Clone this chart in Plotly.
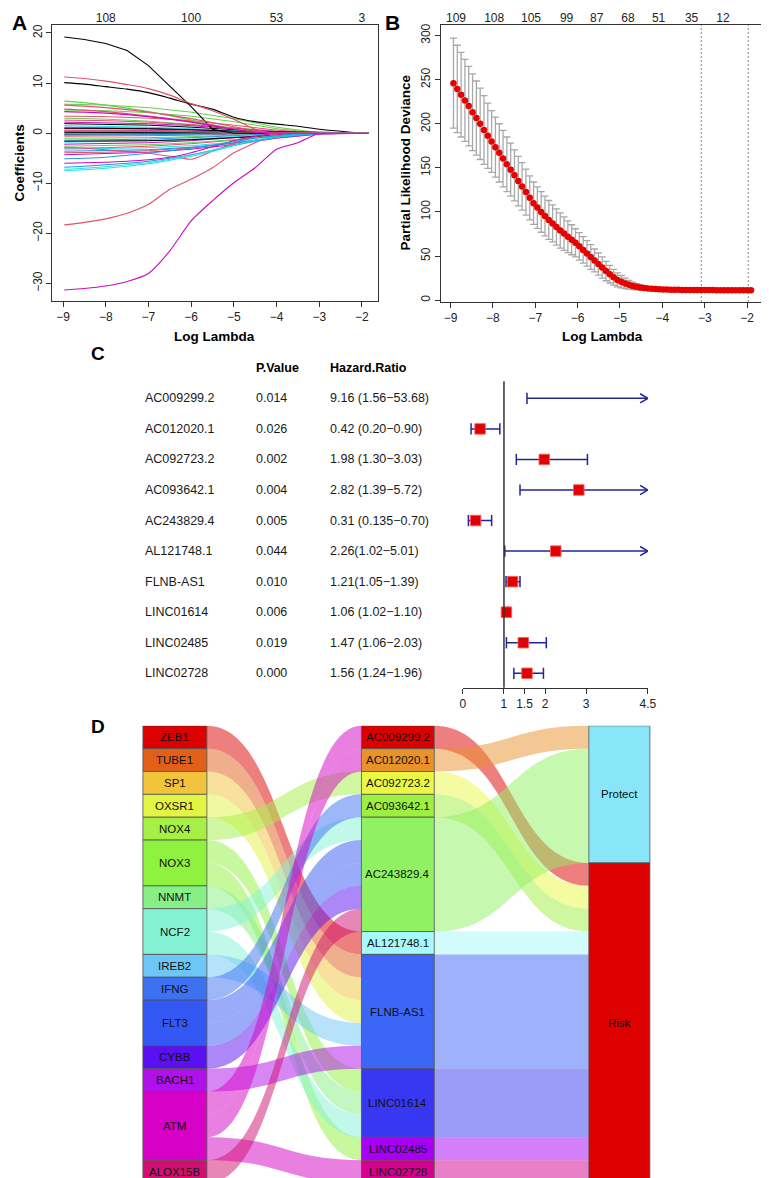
import plotly.graph_objects as go

W, H = 769, 1178
FONT = "Liberation Sans, Arial, Helvetica, sans-serif"


def fx(p):
    return p / W


def fy(p):
    return 1 - p / H


# ---------------- Panel A : coefficient paths ----------------
A_knots = [-8.97, -8.5, -8.0, -7.5, -7.0, -6.5, -6.0, -5.5, -5.0, -4.5, -4.0, -3.5, -3.0, -2.5, -2.0, -1.85]
A_major_paths = [
    [19.2, 18.7, 17.9, 16.5, 13.5, 9.4, 5.3, 0.8, 0, 0, 0, 0, 0, 0, 0, 0],
    [10.1, 9.8, 9.3, 8.8, 8.1, 7.0, 5.8, 4.8, 3.2, 2.3, 1.8, 1.4, 0.8, 0.4, 0.05, 0],
    [11.2, 10.9, 10.4, 9.7, 8.9, 7.6, 5.9, 4.5, 2.8, 0.8, 0, 0, 0, 0, 0, 0],
    [-18.3, -17.8, -17.1, -16.0, -14.2, -11.2, -9.2, -6.9, -3.9, -1.9, -0.1, 0, 0, 0, 0, 0],
    [-31.3, -31.0, -30.5, -29.6, -28.0, -23.5, -17.5, -13.5, -9.9, -6.9, -3.2, -1.9, 0, 0, 0, 0],
    [-2.8, -3.0, -3.3, -3.6, -4.0, -4.6, -5.2, -3.6, -2.0, -0.7, 0, 0, 0, 0, 0, 0],
    [-6.0, -5.9, -5.8, -5.6, -5.3, -4.8, -3.9, -2.7, -1.5, -0.6, 0, 0, 0, 0, 0, 0],
    [-7.5, -7.3, -7.0, -6.6, -6.1, -5.4, -4.6, -3.6, -2.5, -1.6, -0.8, -0.3, 0, 0, 0, 0],
    [-6.8, -6.6, -6.3, -6.0, -5.6, -5.0, -4.3, -3.4, -2.4, -1.5, -0.7, -0.2, 0, 0, 0, 0],
    [-7.2, -7.0, -6.7, -6.3, -5.9, -5.2, -4.4, -3.4, -2.4, -1.4, -0.6, -0.1, 0, 0, 0, 0],
    [-5.1, -5.0, -4.8, -4.4, -4.0, -3.5, -3.0, -2.4, -1.7, -1.0, -0.5, -0.1, 0, 0, 0, 0],
    [6.4, 6.1, 5.6, 5.0, 4.3, 3.5, 2.6, 1.7, 0.9, 0.3, 0, 0, 0, 0, 0, 0],
    [5.6, 5.4, 5.1, 4.7, 4.2, 3.6, 2.9, 2.1, 1.3, 0.5, 0, 0, 0, 0, 0, 0],
    [4.8, 4.6, 4.3, 3.9, 3.4, 2.9, 2.3, 1.6, 0.9, 0.3, 0, 0, 0, 0, 0, 0],
    [4.3, 4.2, 4.0, 3.7, 3.3, 2.8, 2.2, 1.5, 0.8, 0.2, 0, 0, 0, 0, 0, 0],
]
A_major_colors = ["black", "black", "#DF536B", "#DF536B", "#CD0BBC", "#DF536B", "#CD0BBC",
                  "#28E2E5", "#2297E6", "#28E2E5", "#2297E6", "#61D04F", "#DF536B", "#DF536B", "#CD0BBC"]

A_minor_knots = [-8.97, -8.0, -7.0, -6.0, -5.0, -4.0, -3.0, -1.85]
A_minor_paths = [
    [3.0, 2.8, 2.4, 1.8, 1.1, 0.4, 0, 0],
    [2.6, 2.5, 2.2, 1.7, 1.0, 0.3, 0, 0],
    [1.9, 1.8, 1.6, 1.2, 0.7, 0.2, 0, 0],
    [1.5, 1.4, 1.2, 0.9, 0.5, 0.1, 0, 0],
    [1.2, 1.1, 1.0, 0.7, 0.4, 0.1, 0, 0],
    [0.9, 0.9, 0.8, 0.6, 0.3, 0.1, 0, 0],
    [0.7, 0.7, 0.6, 0.4, 0.2, 0, 0, 0],
    [0.4, 0.4, 0.3, 0.2, 0.1, 0, 0, 0],
    [-0.2, -0.2, -0.2, -0.1, 0, 0, 0, 0],
    [-0.6, -0.6, -0.5, -0.4, -0.2, 0, 0, 0],
    [-1.0, -1.0, -0.9, -0.7, -0.4, -0.1, 0, 0],
    [-1.4, -1.3, -1.2, -0.9, -0.5, -0.1, 0, 0],
    [-1.8, -1.7, -1.5, -1.2, -0.7, -0.2, 0, 0],
    [-2.2, -2.1, -1.9, -1.5, -0.9, -0.3, 0, 0],
    [-1.6, -1.6, -1.5, -1.3, -0.9, -0.4, -0.1, 0],
    [-3.0, -2.9, -2.6, -2.1, -1.4, -0.5, 0, 0],
    [-2.6, -2.5, -2.3, -1.9, -1.3, -0.5, 0, 0],
    [-3.2, -3.1, -2.9, -2.5, -1.8, -0.8, -0.1, 0],
    [-3.9, -3.8, -3.5, -2.9, -2.0, -0.9, -0.1, 0],
    [-4.3, -4.1, -3.8, -3.2, -2.3, -1.0, -0.2, 0],
    [-3.6, -3.5, -3.3, -2.8, -2.0, -0.9, -0.1, 0],
    [5.8, 5.6, 5.1, 4.2, 2.9, 1.2, 0.1, 0],
    [4.6, 4.5, 4.1, 3.4, 2.3, 0.9, 0, 0],
    [3.4, 3.3, 3.0, 2.5, 1.6, 0.6, 0, 0],
    [2.2, 2.1, 1.9, 1.5, 0.9, 0.3, 0, 0],
    [0.2, 0.2, 0.2, 0.1, 0.05, 0, 0, 0],
    [-0.4, -0.4, -0.3, -0.2, -0.1, 0, 0, 0],
    [1.0, 1.0, 0.9, 0.7, 0.4, 0.1, 0, 0],
    [0.4, 0.5, 0.5, 0.4, 0.3, 0.2, 0.1, 0],
    [0.1, 0.1, 0.1, 0.2, 0.3, 0.3, 0.2, 0],
    [0.5, 0.5, 0.4, 0.3, 0.2, 0.1, 0.05, 0],
]
A_minor_colors = ["#61D04F", "#DF536B", "black", "#28E2E5", "#2297E6", "#CD0BBC", "#F5C710", "#9E9E9E",
                  "black", "#DF536B", "#61D04F", "#2297E6", "#28E2E5", "#CD0BBC", "black", "#DF536B",
                  "#61D04F", "#28E2E5", "#DF536B", "#CD0BBC", "#2297E6", "#61D04F", "#61D04F", "#DF536B",
                  "#CD0BBC", "#28E2E5", "#2297E6", "black", "#CD0BBC", "black", "#DF536B"]
A_top_ticks = [-8, -6, -4, -2]
A_top_labels = ["108", "100", "53", "3"]

# ---------------- Panel B : cross-validation curve ----------------
B_loglam = [-8.93, -8.84, -8.75, -8.66, -8.57, -8.48, -8.39, -8.30, -8.21, -8.12,
            -8.03, -7.94, -7.85, -7.76, -7.67, -7.58, -7.49, -7.40, -7.31, -7.22,
            -7.13, -7.04, -6.95, -6.86, -6.77, -6.68, -6.59, -6.50, -6.41, -6.32,
            -6.23, -6.14, -6.05, -5.96, -5.87, -5.78, -5.69, -5.60, -5.51, -5.42,
            -5.33, -5.24, -5.15, -5.06, -4.97, -4.88, -4.79, -4.70, -4.61, -4.52,
            -4.43, -4.34, -4.25, -4.16, -4.07, -3.98, -3.89, -3.80, -3.71, -3.62,
            -3.53, -3.44, -3.35, -3.26, -3.17, -3.08, -2.99, -2.90, -2.81, -2.72,
            -2.63, -2.54, -2.45, -2.36, -2.27, -2.18, -2.09, -2.00, -1.91]
B_dev = [246, 239.5, 233, 226.5, 220, 213, 206.5, 200, 193, 186.5, 180,
         173.5, 167, 160.5, 154, 148, 141.5, 135, 129, 122.5, 116, 110,
         105, 100, 95.5, 91, 87, 83, 79, 75.5, 72, 68.5, 65,
         61, 57, 53, 49, 45, 41, 37, 33, 29.5, 26, 23,
         21, 19, 17.5, 16.2, 15.2, 14.4, 13.8, 13.3, 12.9, 12.6, 12.3,
         12.1, 12.0, 11.9, 11.8, 11.7, 11.6, 11.6, 11.5, 11.5, 11.5, 11.4,
         11.4, 11.4, 11.4, 11.3, 11.3, 11.3, 11.3, 11.3, 11.3, 11.3, 11.3, 11.3, 11.3]
B_se = [51, 49.5, 48, 46.5, 45, 43.5, 42, 40.5, 39, 37, 35,
        34, 33, 32, 31, 30, 29, 28, 27, 26, 25, 24,
        23.5, 23, 22.5, 22, 21, 20.5, 20, 19, 18, 17, 16,
        15.5, 15, 14.5, 14, 13, 12.5, 12, 11, 10, 9, 8,
        7, 6, 5, 4.2, 3.5, 2.9, 2.4, 2.0, 1.8, 1.6, 1.5,
        1.4, 1.4, 1.4, 1.4, 1.4, 1.4, 1.4, 1.4, 1.4, 1.4, 1.4,
        1.3, 1.3, 1.3, 1.3, 1.3, 1.3, 1.3, 1.3, 1.3, 1.3, 1.3, 1.3, 1.3]
B_top_ticks = [-8.87, -7.97, -7.10, -6.26, -5.55, -4.81, -4.09, -3.31, -2.57]
B_top_labels = ["109", "108", "105", "99", "87", "68", "51", "35", "12"]
B_lambda_min = -3.08
B_lambda_1se = -1.97

# ---------------- Panel C : forest table ----------------
C_genes = ["AC009299.2", "AC012020.1", "AC092723.2", "AC093642.1", "AC243829.4",
           "AL121748.1", "FLNB-AS1", "LINC01614", "LINC02485", "LINC02728"]
C_pvals = ["0.014", "0.026", "0.002", "0.004", "0.005", "0.044", "0.010", "0.006", "0.019", "0.000"]
C_hr_text = ["9.16 (1.56\u221253.68)", "0.42 (0.20\u22120.90)", "1.98 (1.30\u22123.03)",
             "2.82 (1.39\u22125.72)", "0.31 (0.135\u22120.70)", "2.26(1.02\u22125.01)",
             "1.21(1.05\u22121.39)", "1.06 (1.02\u22121.10)", "1.47 (1.06\u22122.03)",
             "1.56 (1.24\u22121.96)"]
C_hr = [9.16, 0.42, 1.98, 2.82, 0.31, 2.26, 1.21, 1.06, 1.47, 1.56]
C_lo = [1.56, 0.20, 1.30, 1.39, 0.135, 1.02, 1.05, 1.02, 1.06, 1.24]
C_hi = [53.68, 0.90, 3.03, 5.72, 0.70, 5.01, 1.39, 1.10, 2.03, 1.96]
C_ticks = [0, 1, 1.5, 2, 3, 4.5]
C_clip = 4.5

# ---------------- Panel D : alluvial ----------------
D_left = ["ZEB1", "TUBE1", "SP1", "OXSR1", "NOX4", "NOX3", "NNMT", "NCF2", "IREB2",
          "IFNG", "FLT3", "CYBB", "BACH1", "ATM", "ALOX15B"]
D_left_colors = ["#DD0000", "#E0601A", "#F2C43C", "#E2F444", "#A6F046", "#8FF23E", "#86F086",
                 "#86F2D4", "#6EC6F6", "#3C72F2", "#3458F4", "#5A10F0", "#B010EA", "#D600C6", "#D01070"]
D_mid = ["AC009299.2", "AC012020.1", "AC092723.2", "AC093642.1", "AC243829.4",
         "AL121748.1", "FLNB-AS1", "LINC01614", "LINC02485", "LINC02728"]
D_mid_colors = ["#DD0000", "#E8922A", "#EAF844", "#9EF040", "#90F262", "#A6FAFA",
                "#3C66F6", "#3838F2", "#A800F4", "#D4008E"]
D_mid_group = ["Risk", "Protect", "Risk", "Risk", "Protect", "Risk", "Risk", "Risk", "Risk", "Risk"]
D_right = ["Protect", "Risk"]
D_right_colors = ["#88E6F8", "#DD0000"]
D_link_gene = ["ZEB1", "TUBE1", "SP1", "OXSR1", "NOX4", "NOX3", "NOX3", "NNMT", "NCF2", "NCF2",
               "IREB2", "IFNG", "FLT3", "FLT3", "CYBB", "BACH1", "ATM", "ATM", "ATM", "ALOX15B"]
D_link_lnc = ["AL121748.1", "FLNB-AS1", "FLNB-AS1", "FLNB-AS1", "AC092723.2", "LINC01614", "LINC02485",
              "LINC01614", "AC243829.4", "LINC01614", "FLNB-AS1", "AC093642.1", "AC243829.4",
              "AC243829.4", "AC243829.4", "FLNB-AS1", "AC009299.2", "AC012020.1", "LINC02728",
              "AC243829.4"]

fig = go.Figure()
shapes = []
ann = []


def add_text(x, y, text, size=12, bold=False, angle=0, xanchor="center", xref="paper", yref="paper",
             color="black"):
    ann.append(dict(x=x, y=y, xref=xref, yref=yref, text=("<b>%s</b>" % text) if bold else text,
                    showarrow=False, textangle=angle, xanchor=xanchor, yanchor="middle",
                    font=dict(family=FONT, size=size, color=color)))


# ----- Panel A traces -----
for path, col in zip(A_minor_paths, A_minor_colors):
    fig.add_trace(go.Scatter(x=A_minor_knots, y=path, mode="lines", line=dict(color=col, width=1),
                             xaxis="x", yaxis="y", hoverinfo="skip", showlegend=False))
for n, (path, col) in enumerate(zip(A_major_paths, A_major_colors)):
    shape_kw = dict(shape="linear") if n == 0 else dict(shape="spline", smoothing=0.6)
    fig.add_trace(go.Scatter(x=A_knots, y=path, mode="lines",
                             line=dict(color=col, width=1.1, **shape_kw),
                             xaxis="x", yaxis="y", hoverinfo="skip", showlegend=False))
fig.add_trace(go.Scatter(x=A_top_ticks, y=[0] * len(A_top_ticks), mode="markers", marker=dict(size=1, opacity=0),
                         xaxis="x2", yaxis="y", hoverinfo="skip", showlegend=False))

# ----- Panel B traces -----
fig.add_trace(go.Scatter(x=B_loglam, y=B_dev, mode="markers",
                         marker=dict(color="#E60000", size=6.5, line=dict(width=0)),
                         error_y=dict(type="data", array=B_se, color="#A8A8A8", thickness=1.3, width=3.5),
                         xaxis="x3", yaxis="y3", hoverinfo="skip", showlegend=False))
fig.add_trace(go.Scatter(x=B_top_ticks, y=[0] * len(B_top_ticks), mode="markers", marker=dict(size=1, opacity=0),
                         xaxis="x4", yaxis="y3", hoverinfo="skip", showlegend=False))
for v in [B_lambda_min, B_lambda_1se]:
    shapes.append(dict(type="line", xref="x3", yref="y3 domain", x0=v, x1=v, y0=0, y1=1,
                       line=dict(color="#444444", width=1.3, dash="1px,3px")))

# ----- Panel C traces -----
C_top_px, C_bot_px = 372, 679
C_yrange = [9.477, -0.556]
rows = list(range(len(C_genes)))
seg_x, seg_y = [], []
cap_x, cap_y = [], []
chev_x, chev_y = [], []
sq_x, sq_y = [], []
dx_arrow, dy_arrow = 0.19, 0.15
for r, h, lo, hi in zip(rows, C_hr, C_lo, C_hi):
    seg_x += [lo, min(hi, C_clip), None]
    seg_y += [r, r, None]
    cap_x.append(lo); cap_y.append(r)
    if hi <= C_clip:
        cap_x.append(hi); cap_y.append(r)
    else:
        chev_x += [C_clip - dx_arrow, C_clip, C_clip - dx_arrow, None]
        chev_y += [r - dy_arrow, r, r + dy_arrow, None]
    if h <= C_clip:
        sq_x.append(h); sq_y.append(r)
NAVY = "#23239A"
fig.add_trace(go.Scatter(x=seg_x, y=seg_y, mode="lines", line=dict(color=NAVY, width=1.5),
                         xaxis="x5", yaxis="y5", hoverinfo="skip", showlegend=False, cliponaxis=False))
fig.add_trace(go.Scatter(x=cap_x, y=cap_y, mode="markers",
                         marker=dict(symbol="line-ns", size=8, line=dict(color=NAVY, width=1.5)),
                         xaxis="x5", yaxis="y5", hoverinfo="skip", showlegend=False, cliponaxis=False))
fig.add_trace(go.Scatter(x=chev_x, y=chev_y, mode="lines", line=dict(color=NAVY, width=1.5),
                         xaxis="x5", yaxis="y5", hoverinfo="skip", showlegend=False, cliponaxis=False))
fig.add_trace(go.Scatter(x=sq_x, y=sq_y, mode="markers",
                         marker=dict(symbol="square", size=10.5, color="#E00000",
                                     line=dict(color="rgba(255,90,90,0.9)", width=1)),
                         xaxis="x5", yaxis="y5", hoverinfo="skip", showlegend=False, cliponaxis=False))
shapes.append(dict(type="line", xref="x5", yref="y5 domain", x0=1, x1=1, y0=0, y1=1,
                   line=dict(color="#333333", width=1.5)))


def row_to_paper(r):
    frac = (r - C_yrange[1]) / (C_yrange[0] - C_yrange[1])
    return fy(C_top_px + frac * (C_bot_px - C_top_px))


C_col_gene, C_col_p, C_col_hr = 134, 247, 322
add_text(fx(C_col_p), row_to_paper(-1), "P.Value", size=12.5, bold=True, xanchor="left")
add_text(fx(C_col_hr), row_to_paper(-1), "Hazard.Ratio", size=12.5, bold=True, xanchor="left")
for r, g, p, t in zip(rows, C_genes, C_pvals, C_hr_text):
    add_text(fx(C_col_gene), row_to_paper(r), g, size=12.5, xanchor="left", color="#1a1a1a")
    add_text(fx(C_col_p), row_to_paper(r), p, size=12.5, xanchor="left", color="#1a1a1a")
    add_text(fx(C_col_hr), row_to_paper(r), t, size=12.5, xanchor="left", color="#1a1a1a")

# ----- Panel D : alluvial drawn from link lists -----
L_idx = {n: i for i, n in enumerate(D_left)}
M_idx = {n: i for i, n in enumerate(D_mid)}
nlinks = len(D_link_gene)
left_size = [D_link_gene.count(n) for n in D_left]
mid_size = [D_link_lnc.count(n) for n in D_mid]


def cumstart(sizes):
    out, c = [], 0
    for s in sizes:
        out.append(c)
        c += s
    return out


left_start = cumstart(left_size)
mid_start = cumstart(mid_size)
right_size = [sum(s for s, g in zip(mid_size, D_mid_group) if g == rn) for rn in D_right]
right_start = cumstart(right_size)

src_pos = {}
cur = list(left_start)
for k in sorted(range(nlinks), key=lambda k: (L_idx[D_link_gene[k]], M_idx[D_link_lnc[k]])):
    i = L_idx[D_link_gene[k]]
    src_pos[k] = cur[i]
    cur[i] += 1
dst_pos = {}
cur = list(mid_start)
for k in sorted(range(nlinks), key=lambda k: (M_idx[D_link_lnc[k]], L_idx[D_link_gene[k]])):
    j = M_idx[D_link_lnc[k]]
    dst_pos[k] = cur[j]
    cur[j] += 1

# column geometry (pixels on the x6 axis, which spans the full figure width)
XL0, XL1 = 134, 199
XM0, XM1 = 356, 430
XR0, XR1 = 587, 649


def hex_rgba(h, a):
    h = h.lstrip("#")
    return "rgba(%d,%d,%d,%.2f)" % (int(h[0:2], 16), int(h[2:4], 16), int(h[4:6], 16), a)


def band(x0, x1, a0, a1, b0, b1):
    xm = (x0 + x1) / 2
    return ("M %f,%f C %f,%f %f,%f %f,%f L %f,%f C %f,%f %f,%f %f,%f Z" %
            (x0, a0, xm, a0, xm, b0, x1, b0, x1, b1, xm, b1, xm, a1, x0, a1))


for k in range(nlinks):
    i = L_idx[D_link_gene[k]]
    a0 = src_pos[k]
    b0 = dst_pos[k]
    shapes.append(dict(type="path", xref="x6", yref="y6", path=band(XL1, XM0, a0, a0 + 1, b0, b0 + 1),
                       fillcolor=hex_rgba(D_left_colors[i], 0.5), line=dict(width=0), layer="above"))

rcur = list(right_start)
for j, n in enumerate(D_mid):
    ri = D_right.index(D_mid_group[j])
    a0 = mid_start[j]
    b0 = rcur[ri]
    rcur[ri] += mid_size[j]
    shapes.append(dict(type="path", xref="x6", yref="y6",
                       path=band(XM1, XR0, a0, a0 + mid_size[j], b0, b0 + mid_size[j]),
                       fillcolor=hex_rgba(D_mid_colors[j], 0.5), line=dict(width=0), layer="above"))


def node(x0, x1, y0, y1, col, label):
    shapes.append(dict(type="rect", xref="x6", yref="y6", x0=x0, x1=x1, y0=y0, y1=y1,
                       fillcolor=col, line=dict(color="#505050", width=0.8), layer="above"))
    add_text((x0 + x1) / 2, (y0 + y1) / 2, label, size=11.5, xref="x6", yref="y6", color="#111111")


for i, n in enumerate(D_left):
    node(XL0, XL1, left_start[i], left_start[i] + left_size[i], D_left_colors[i], n)
for j, n in enumerate(D_mid):
    node(XM0, XM1, mid_start[j], mid_start[j] + mid_size[j], D_mid_colors[j], n)
for r, n in enumerate(D_right):
    node(XR0, XR1, right_start[r], right_start[r] + right_size[r], D_right_colors[r], n)

# ----- panel labels & axis titles -----
add_text(fx(9), fy(13), "A", size=21, bold=True)
add_text(fx(388), fy(13), "B", size=21, bold=True)
add_text(fx(88), fy(344), "C", size=19, bold=True)
add_text(fx(88), fy(718), "D", size=19, bold=True)
add_text(fx(9), fy(153), "Coefficients", size=13.5, bold=True, angle=-90)
add_text(fx(401), fy(153), "Partial Likelihood Deviance", size=13.5, bold=True, angle=-90)
add_text(fx(207), fy(327), "Log Lambda", size=13.5, bold=True)
add_text(fx(601), fy(327), "Log Lambda", size=13.5, bold=True)

tickfont = dict(family=FONT, size=12, color="#222222")
box = dict(showline=True, linecolor="#333333", linewidth=1, mirror=True, showgrid=False, zeroline=False,
           ticks="outside", ticklen=5, tickcolor="#333333", tickfont=tickfont)

lx = [-9, -8, -7, -6, -5, -4, -3, -2]
fig.update_layout(
    width=W, height=H, margin=dict(l=0, r=0, t=0, b=0), autosize=False,
    paper_bgcolor="white", plot_bgcolor="white", showlegend=False, hovermode=False,
    xaxis=dict(domain=[fx(42), fx(373)], range=[-9.25, -1.62], anchor="y", tickvals=lx,
               ticktext=["\u2212%d" % (-v) for v in lx], **box),
    yaxis=dict(domain=[fy(291), fy(15)], range=[-33.4, 21.6], anchor="x", tickvals=[-30, -20, -10, 0, 10, 20],
               ticktext=["\u221230", "\u221220", "\u221210", "0", "10", "20"], tickangle=-90, **box),
    xaxis2=dict(overlaying="x", side="top", anchor="y", range=[-9.25, -1.62], tickvals=A_top_ticks,
                ticktext=A_top_labels, ticks="", showline=False, showgrid=False, zeroline=False,
                tickfont=tickfont),
    xaxis3=dict(domain=[fx(437), fx(765)], range=[-9.22, -1.6], anchor="y3", tickvals=lx,
                ticktext=["\u2212%d" % (-v) for v in lx], **box),
    yaxis3=dict(domain=[fy(292), fy(15)], range=[-1.5, 312], anchor="x3", tickvals=[0, 50, 100, 150, 200, 250, 300],
                tickangle=-90, **box),
    xaxis4=dict(overlaying="x3", side="top", anchor="y3", range=[-9.22, -1.6], tickvals=B_top_ticks,
                ticktext=B_top_labels, ticks="", showline=False, showgrid=False, zeroline=False,
                tickfont=tickfont),
    xaxis5=dict(domain=[fx(459), fx(647)], range=[0, C_clip], anchor="y5", tickvals=C_ticks,
                ticktext=[("%g" % v) for v in C_ticks], showline=True, linecolor="#333333", linewidth=1.2,
                ticks="outside", ticklen=5, tickcolor="#333333", showgrid=False, zeroline=False,
                tickfont=tickfont),
    yaxis5=dict(domain=[fy(C_bot_px), fy(C_top_px)], range=C_yrange, anchor="x5", visible=False),
    xaxis6=dict(domain=[0, 1], range=[0, W], anchor="y6", visible=False),
    yaxis6=dict(domain=[fy(1175), fy(717)], range=[nlinks, 0], anchor="x6", visible=False),
    shapes=shapes, annotations=ann,
)
fig.add_trace(go.Scatter(x=[0], y=[0], mode="markers", marker=dict(size=1, opacity=0), xaxis="x6", yaxis="y6",
                         hoverinfo="skip", showlegend=False))

fig.write_html("out.html")
